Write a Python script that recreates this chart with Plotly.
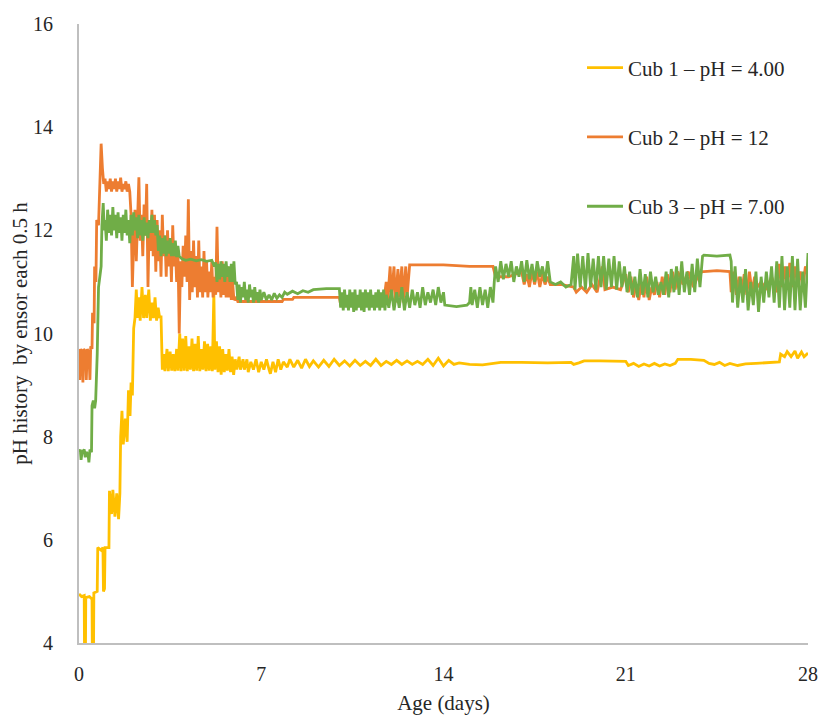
import plotly.graph_objects as go

# ---------------- data ----------------
cub1_day = [0, 0.1, 0.2, 0.21, 0.25, 0.26, 0.4, 0.5, 0.51, 0.56, 0.57, 0.7, 0.72, 0.85, 0.92, 0.94, 0.98, 1.0, 1.15, 1.17,
            1.25, 1.3, 1.38, 1.45, 1.52, 1.57, 1.6, 1.65, 1.7, 1.78, 1.85, 1.9, 1.96, 2.0, 2.05, 2.1, 2.15,
            2.2, 2.25, 2.3, 2.35, 2.42, 2.48, 2.55, 2.6, 2.68, 2.74, 2.8, 2.86, 2.92, 2.98, 3.04, 3.1, 3.15, 3.2,
            3.25, 3.3, 3.38, 3.43, 3.5, 3.56, 3.62, 3.68, 3.75, 3.8, 3.87, 3.92, 3.98, 4.04, 4.1, 4.16, 4.22, 4.28,
            4.34, 4.4, 4.46, 4.52, 4.58, 4.64, 4.7, 4.76, 4.82, 4.88, 4.94, 5.0, 5.06, 5.12, 5.18, 5.22, 5.28, 5.34,
            5.4, 5.46, 5.52, 5.58, 5.64, 5.7, 5.76, 5.82, 5.88, 5.94, 6.0, 6.06,
            6.15, 6.2, 6.3, 6.35, 6.45, 6.5, 6.6, 6.7, 6.8, 6.9, 7.0, 7.1, 7.2, 7.3, 7.35, 7.45, 7.55, 7.65, 7.75,
            7.85, 8.0, 8.1, 8.25, 8.4, 8.55, 8.7, 8.85, 9.0, 9.2, 9.4, 9.6, 9.8, 10.0, 10.2, 10.4, 10.6, 10.8, 11.0,
            11.2, 11.4, 11.6, 11.8, 12.0, 12.2, 12.4, 12.6, 12.8, 13.0, 13.2, 13.4, 13.6, 13.8, 14.0, 14.2, 14.4,
            14.6, 15.0, 15.5, 15.9, 16.2, 17.0, 18.0, 18.9, 19.0, 19.2, 19.4, 20.0, 20.6, 21.0, 21.1, 21.3, 21.5,
            21.7, 21.9, 22.1, 22.3, 22.5, 22.7, 22.9, 23.0, 23.5, 24.0, 24.2, 24.4, 24.6, 24.8, 25.0, 25.3, 25.6,
            26.0, 26.5, 26.9, 26.95, 27.1, 27.2, 27.35, 27.5, 27.6, 27.75, 27.85, 28.0]
cub1_ph = [4.95, 4.9, 4.92, 4.0, 4.0, 4.88, 4.9, 4.85, 4.0, 4.0, 4.97, 5.0, 5.85, 5.8, 5.85, 5.0, 5.05, 5.85, 5.85, 6.95,
           6.5, 6.97, 6.45, 6.9, 6.4, 6.9, 8.0, 8.5, 7.85, 8.35, 7.9, 8.9, 8.4, 9.05, 8.8, 10.1, 10.3,
           10.85, 10.3, 10.7, 10.25, 10.9, 10.3, 10.75, 10.3, 10.85, 10.25, 10.6, 10.3, 10.7, 10.25, 10.5, 10.3, 10.35, 9.3,
           9.6, 9.27, 9.7, 9.27, 9.65, 9.28, 9.6, 9.27, 9.7, 9.28, 10.0, 9.27, 9.9, 9.28, 9.95, 9.27, 9.75, 9.3,
           9.9, 9.27, 9.8, 9.28, 9.95, 9.27, 9.7, 9.3, 9.85, 9.27, 9.8, 9.28, 9.75, 9.27, 10.8, 9.3, 9.85, 9.25,
           9.75, 9.2, 9.7, 9.25, 9.6, 9.28, 9.7, 9.25, 9.55, 9.2, 9.5, 9.3,
           9.55, 9.3, 9.5, 9.3, 9.5, 9.25, 9.45, 9.3, 9.5, 9.25, 9.45, 9.3, 9.5, 9.3, 9.22, 9.45, 9.25, 9.5, 9.3,
           9.45, 9.35, 9.5, 9.35, 9.48, 9.33, 9.5, 9.36, 9.47, 9.35, 9.48, 9.36, 9.5, 9.38, 9.47, 9.37, 9.48, 9.38, 9.46,
           9.38, 9.5, 9.38, 9.46, 9.4, 9.48, 9.4, 9.47, 9.4, 9.46, 9.4, 9.5, 9.38, 9.52, 9.37, 9.48, 9.4,
           9.43, 9.4, 9.39, 9.42, 9.44, 9.44, 9.43, 9.44, 9.4, 9.43, 9.47, 9.47, 9.46, 9.46, 9.38, 9.42, 9.36,
           9.41, 9.37, 9.42, 9.37, 9.41, 9.38, 9.42, 9.5, 9.5, 9.48, 9.42, 9.4, 9.44, 9.38, 9.42, 9.38, 9.41,
           9.42, 9.43, 9.45, 9.6, 9.55, 9.65, 9.55, 9.66, 9.52, 9.64, 9.55, 9.62]

cub2_day = [0, 0.03, 0.06, 0.12, 0.15, 0.18, 0.25, 0.28, 0.32, 0.38, 0.42, 0.45, 0.5, 0.52, 0.58, 0.6, 0.65, 0.68,
            0.75, 0.8, 0.85, 0.9, 0.95, 1.0, 1.05, 1.1, 1.15, 1.2, 1.25, 1.3, 1.35, 1.4, 1.45, 1.5, 1.55, 1.6,
            1.65, 1.7, 1.75, 1.8, 1.85, 1.9, 1.95, 2.0, 2.05, 2.1, 2.15, 2.2, 2.25, 2.3, 2.35, 2.4, 2.45, 2.5,
            2.55, 2.6, 2.65, 2.7, 2.75, 2.8, 2.85, 2.9, 2.95, 3.0, 3.05, 3.1, 3.15, 3.2, 3.25, 3.3, 3.35, 3.4,
            3.45, 3.5, 3.55, 3.6, 3.65, 3.7, 3.75, 3.8, 3.85, 3.9, 3.95, 4.0, 4.05, 4.1, 4.15, 4.2, 4.25, 4.3,
            4.35, 4.4, 4.45, 4.5, 4.55, 4.6, 4.65, 4.7, 4.75, 4.8, 4.85, 4.9, 4.95, 5.0, 5.05, 5.1, 5.15, 5.2,
            5.25, 5.3, 5.35, 5.4, 5.45, 5.5, 5.55, 5.6, 5.65, 5.7, 5.75, 5.8, 5.85, 5.9, 5.95, 6.05, 6.1, 6.5,
            7.0, 7.8, 7.85, 8.2, 8.25, 9.0, 10.0, 10.05, 11.7, 11.8, 11.85, 11.95, 12.0, 12.1, 12.15, 12.25,
            12.3, 12.4, 12.45, 12.55, 12.6, 12.7, 13.0, 14.0, 15.0, 15.9, 16.0, 16.5, 17.0, 17.1, 17.2, 17.3,
            17.4, 17.5, 17.6, 17.7, 17.8, 17.9, 18.0, 18.1, 18.5, 19.0, 19.1, 19.3, 19.5, 19.7, 19.9, 20.1,
            20.2, 20.5, 20.8, 21.0, 21.1, 21.2, 21.3, 21.4, 21.5, 21.6, 21.7, 21.8, 21.9, 22.0, 22.1, 22.2,
            22.3, 22.4, 22.5, 22.6, 22.7, 22.8, 22.9, 23.0, 23.2, 23.4, 23.6, 23.8, 23.95, 24.0, 24.5, 25.0,
            25.05, 25.15, 25.25, 25.35, 25.45, 25.55, 25.65, 25.75, 25.85, 25.95, 26.05, 26.2, 26.4, 26.6,
            26.8, 26.9, 27.0, 27.1, 27.2, 27.3, 27.4, 27.5, 27.6, 27.7, 27.8, 27.9, 28.0]
cub2_ph = [9.7, 9.1, 9.7, 9.6, 9.05, 9.7, 9.65, 9.1, 9.7, 9.6, 9.1, 9.75, 9.7, 10.4, 10.2, 11.3, 11.0, 12.2,
           12.1, 13.0, 13.68, 13.2, 12.9, 13.0, 12.75, 12.95, 12.8, 13.0, 12.75, 12.95, 12.8, 13.0, 12.75, 12.95, 12.8, 13.02,
           12.75, 12.9, 12.8, 12.95, 12.75, 12.9, 12.75, 12.3, 10.9, 11.8, 12.4, 11.4, 12.5, 13.03, 11.8, 12.3, 11.5, 12.5,
           11.9, 12.9, 10.9, 12.2, 11.6, 12.4, 11.5, 12.3, 11.2, 12.2, 11.4, 12.0, 11.1, 12.3, 11.5, 11.9, 11.1, 12.0,
           11.3, 11.8, 11.0, 12.1, 11.3, 11.7, 11.0, 11.6, 10.0, 11.4, 10.9, 11.7, 11.1, 11.9, 11.0, 12.6, 10.65, 11.6,
           10.8, 11.8, 10.9, 11.5, 10.7, 11.8, 10.8, 11.3, 10.7, 11.6, 10.8, 11.4, 10.7, 11.2, 10.8, 11.4, 10.7, 11.1,
           10.75, 12.07, 10.8, 11.3, 10.7, 11.4, 10.75, 11.2, 10.7, 11.3, 10.7, 11.1, 10.65, 11.0, 10.65, 10.7, 10.62, 10.62,
           10.62, 10.62, 10.66, 10.66, 10.7, 10.7, 10.7, 10.55, 10.6, 11.0, 10.6, 11.3, 10.7, 11.3, 10.6, 11.25,
           10.7, 11.3, 10.6, 11.3, 10.7, 11.33, 11.33, 11.33, 11.3, 11.3, 11.1, 11.1, 11.2, 10.95, 11.15, 10.9,
           11.2, 10.95, 11.2, 10.9, 11.15, 10.95, 11.1, 10.95, 10.95, 10.9, 10.8, 10.9, 10.8, 10.95, 10.8, 11.3,
           10.85, 10.9, 10.85, 11.15, 10.8, 11.1, 10.7, 10.95, 10.65, 11.0, 10.7, 11.1, 10.65, 10.9, 10.75, 11.0,
           10.7, 11.1, 10.75, 11.15, 10.8, 11.2, 10.85, 11.2, 10.95, 11.2, 10.9, 11.15, 11.2, 11.2, 11.22, 11.2,
           10.8, 11.2, 10.75, 11.1, 10.8, 11.15, 10.75, 11.2, 10.8, 11.1, 10.9, 11.0, 10.85, 11.1,
           10.8, 11.35, 10.9, 11.3, 10.85, 11.37, 10.9, 11.3, 10.95, 11.2, 10.9, 11.3, 11.1]

cub3_day = [0, 0.05, 0.08, 0.12, 0.2, 0.24, 0.28, 0.35, 0.38, 0.42, 0.48, 0.5, 0.55, 0.6, 0.64, 0.7, 0.75, 0.8,
            0.85, 0.88, 0.93, 0.97, 1.0, 1.05, 1.1, 1.15,
            1.2, 1.25, 1.3, 1.35, 1.4, 1.45, 1.5, 1.55, 1.6, 1.65, 1.7, 1.75, 1.8, 1.85, 1.9, 1.95, 2.0, 2.05,
            2.1, 2.15, 2.2, 2.25, 2.3, 2.35, 2.4, 2.45, 2.5, 2.55, 2.6, 2.65, 2.7, 2.75, 2.8, 2.85, 2.9, 2.95,
            3.0, 3.05, 3.1, 3.15, 3.2, 3.25, 3.3, 3.35, 3.4, 3.45, 3.5, 3.55, 3.6, 3.65, 3.7, 3.75, 3.8, 3.85,
            3.95, 4.1, 4.3, 4.5, 4.7, 4.9, 5.1, 5.2, 5.25, 5.3, 5.35, 5.4, 5.45, 5.5, 5.55, 5.6, 5.65, 5.7,
            5.75, 5.8, 5.85, 5.9, 5.95, 6.0, 6.05, 6.1, 6.15, 6.2, 6.25, 6.3, 6.35, 6.4, 6.45, 6.5, 6.55, 6.6,
            6.65, 6.7, 6.75, 6.8, 6.85, 6.9, 6.95, 7.0, 7.1, 7.2, 7.3, 7.4, 7.5, 7.6, 7.7, 7.8, 7.9, 8.0, 8.2,
            8.4, 8.6, 8.8, 9.0, 9.5, 10.0, 10.05, 10.1, 10.15, 10.2, 10.25, 10.3, 10.35, 10.4, 10.45, 10.5,
            10.55, 10.6, 10.65, 10.7, 10.75, 10.8, 10.85, 10.9, 10.95, 11.0, 11.05, 11.1, 11.15, 11.2, 11.25,
            11.3, 11.35, 11.4, 11.45, 11.5, 11.55, 11.6, 11.65, 11.7, 11.75, 11.8, 11.9, 12.0, 12.1, 12.2,
            12.3, 12.4, 12.5, 12.6, 12.7, 12.8, 12.9, 13.0, 13.1, 13.2, 13.3, 13.4, 13.5, 13.6, 13.7, 13.8,
            13.9, 14.0, 14.05, 14.5, 14.9, 15.0, 15.05, 15.1, 15.2, 15.3, 15.4, 15.5, 15.6, 15.7, 15.8, 15.9,
            15.95, 16.0, 16.1, 16.2, 16.3, 16.4, 16.5, 16.6, 16.7, 16.8, 16.9, 17.0, 17.1, 17.2, 17.3, 17.4,
            17.5, 17.6, 17.7, 17.8, 17.9, 18.0, 18.1, 18.3, 18.5, 18.7, 18.9, 19.0, 19.05, 19.15, 19.25, 19.35,
            19.45, 19.55, 19.65, 19.75, 19.85, 19.95, 20.05, 20.15, 20.25, 20.35, 20.45, 20.55, 20.65, 20.75,
            20.85, 20.95, 21.05, 21.15, 21.25, 21.35, 21.45, 21.55, 21.65, 21.75, 21.85, 21.95, 22.05, 22.15,
            22.25, 22.35, 22.45, 22.55, 22.65, 22.75, 22.85, 22.95, 23.05, 23.15, 23.25, 23.35, 23.45, 23.55,
            23.65, 23.75, 23.85, 23.95, 24.0, 24.5, 25.0, 25.05, 25.1, 25.2, 25.3, 25.4, 25.5, 25.6, 25.7,
            25.8, 25.9, 26.0, 26.1, 26.2, 26.3, 26.4, 26.5, 26.6, 26.7, 26.8, 26.9, 27.0, 27.1, 27.2, 27.3,
            27.4, 27.5, 27.6, 27.7, 27.8, 27.9, 28.0]
cub3_ph = [7.7, 7.75, 7.55, 7.7, 7.75, 7.6, 7.7, 7.65, 7.5, 7.75, 7.7, 8.6, 8.7, 8.55, 8.7, 9.6, 10.9, 11.1,
           11.3, 12.1, 12.53, 12.0, 12.2, 11.8, 12.4, 11.95,
           12.3, 11.9, 12.45, 12.0, 12.3, 11.85, 12.35, 11.95, 12.25, 11.8, 12.3, 11.95, 12.4, 11.9, 12.2, 11.75, 12.3, 11.9,
           12.35, 12.0, 12.25, 11.85, 12.3, 11.9, 12.2, 11.8, 12.25, 11.9, 12.15, 11.85, 12.2, 11.95, 12.3, 11.95, 12.2, 11.9,
           12.1, 11.6, 11.9, 11.5, 11.85, 11.55, 11.9, 11.5, 11.8, 11.55, 11.85, 11.5, 11.75, 11.5, 11.8, 11.48, 11.7, 11.5,
           11.45, 11.42, 11.44, 11.41, 11.43, 11.4, 11.42, 11.3, 11.38, 11.0, 11.35, 11.05, 11.4, 11.1, 11.35, 11.0, 11.4, 11.1,
           11.3, 11.0, 11.35, 11.0, 11.4, 10.95, 11.0, 10.65, 10.95, 10.6, 10.9, 10.7, 11.0, 10.65, 10.85, 10.6, 10.95, 10.7,
           10.85, 10.6, 10.9, 10.65, 10.8, 10.6, 10.85, 10.65, 10.8, 10.65, 10.75, 10.65, 10.78, 10.68, 10.75, 10.7, 10.8, 10.76, 10.82,
           10.77, 10.83, 10.8, 10.85, 10.87, 10.87, 10.5, 10.8, 10.45, 10.85, 10.5, 10.75, 10.45, 10.85, 10.5, 10.8,
           10.42, 10.85, 10.45, 10.75, 10.5, 10.85, 10.45, 10.8, 10.42, 10.85, 10.5, 10.8, 10.45, 10.85, 10.5,
           10.75, 10.45, 10.8, 10.5, 10.85, 10.45, 10.8, 10.5, 10.85, 10.45, 10.75, 10.5, 10.85, 10.45, 10.8,
           10.5, 10.9, 10.45, 10.8, 10.5, 10.85, 10.55, 10.8, 10.5, 10.9, 10.55, 10.8, 10.6, 10.85, 10.55, 10.9,
           10.6, 10.8, 10.55, 10.52, 10.55, 10.6, 10.9, 10.55, 10.85, 10.5, 10.9, 10.55, 10.85, 10.5, 10.9, 10.6,
           11.0, 11.3, 11.0, 11.4, 11.05, 11.35, 11.1, 11.4, 11.0, 11.3, 11.1, 11.4, 11.0, 11.42, 11.05, 11.35,
           11.0, 11.4, 11.1, 11.3, 11.0, 11.4, 11.0, 10.95, 11.0, 10.9, 10.95, 11.5, 10.85, 11.55, 10.9, 11.5,
           10.85, 11.56, 10.9, 11.45, 10.85, 11.5, 10.9, 11.5, 10.85, 11.45, 10.9, 11.5, 10.85, 11.4,
           10.9, 11.3, 10.8, 11.2, 10.75, 11.1, 10.7, 11.25, 10.75, 11.15, 10.7, 11.2, 10.8, 11.1,
           10.75, 11.0, 10.75, 11.2, 10.7, 11.25, 10.8, 11.3, 10.75, 11.4, 10.8, 11.2, 10.75, 11.35,
           10.8, 11.45, 10.9, 11.5, 11.52, 11.5, 11.52, 11.4, 10.6, 11.3, 10.5, 11.1, 10.6, 11.25, 10.45,
           11.0, 10.55, 11.2, 10.42, 11.1, 10.6, 11.2, 10.7, 11.3, 10.6, 11.4, 10.5, 11.5, 10.45, 11.3, 10.5,
           11.5, 10.45, 11.45, 10.45, 11.2, 10.5, 11.56]

series_names = ["Cub 1 \u2013 pH = 4.00", "Cub 2 \u2013 pH = 12", "Cub 3 \u2013 pH = 7.00"]
series_colors = ["#FFC000", "#ED7D31", "#70AD47"]
x_ticks = [0, 7, 14, 21, 28]
y_ticks = [4, 6, 8, 10, 12, 14, 16]

FONT = "Liberation Serif"
TXT = "#262626"

fig = go.Figure()
for i, (xd, yd) in enumerate([(cub1_day, cub1_ph), (cub2_day, cub2_ph), (cub3_day, cub3_ph)]):
    fig.add_trace(go.Scatter(
        x=xd, y=yd, mode="lines", name=series_names[i], legendgroup="g%d" % i,
        line=dict(color=series_colors[i], width=2.8), showlegend=True,
    ))

fig.update_layout(
    width=819, height=715,
    margin=dict(l=79, r=11, t=24, b=72),
    plot_bgcolor="white", paper_bgcolor="white",
    font=dict(family=FONT, size=20, color=TXT),
    showlegend=True,
    legend=dict(x=0.69, y=0.962, xanchor="left", yanchor="top",
                bgcolor="rgba(0,0,0,0)", tracegroupgap=39, itemwidth=36,
                font=dict(family=FONT, size=21, color=TXT)),
    xaxis=dict(range=[0, 28], tickvals=x_ticks, ticktext=[str(v) for v in x_ticks],
               showgrid=False, zeroline=False, showline=True, linecolor="#BFBFBF", linewidth=2,
               ticks="", ticklabelstandoff=12, automargin=False,
               tickfont=dict(family=FONT, size=20, color=TXT),
               title=dict(text="Age (days)", font=dict(family=FONT, size=21, color=TXT), standoff=14)),
    yaxis=dict(range=[4, 16], tickvals=y_ticks, ticktext=[str(v) for v in y_ticks],
               showgrid=False, zeroline=False, showline=True, linecolor="#BFBFBF", linewidth=2,
               ticks="", ticklabelstandoff=20, automargin=False,
               tickfont=dict(family=FONT, size=20, color=TXT),
               title=dict(text="pH history\u00a0 by ensor each 0.5 h",
                          font=dict(family=FONT, size=21, color=TXT), standoff=0)),
)

# remove the browser's default body margin so the figure fills the 819x715 window exactly
fig.write_html("out.html", config={"displayModeBar": False},
               post_script="document.body.style.margin='0';document.body.style.overflow='hidden';")
